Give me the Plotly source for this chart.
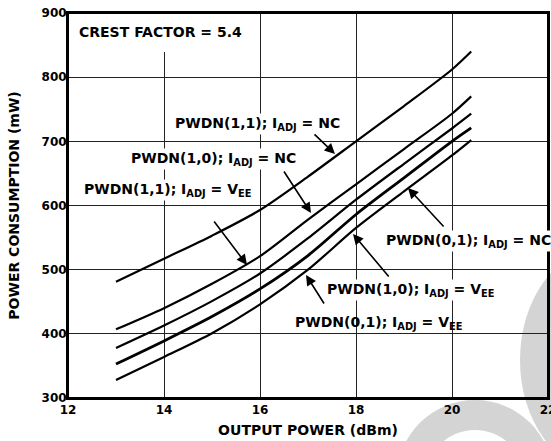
import plotly.graph_objects as go

# ---- data ----
output_power = [13, 14, 15, 16, 17, 18, 19, 20, 20.4]
pwdn11_nc = [481, 517, 553, 593, 645, 700, 755, 812, 840]
pwdn10_nc = [407, 440, 478, 521, 578, 633, 688, 743, 770]
pwdn11_vee = [378, 413, 451, 494, 549, 609, 665, 720, 743]
pwdn10_vee = [353, 389, 427, 470, 522, 586, 643, 700, 721]
pwdn01_vee = [328, 364, 401, 446, 500, 565, 622, 678, 702]

x_ticks = [12, 14, 16, 18, 20, 22]
y_ticks = [300, 400, 500, 600, 700, 800, 900]

FONT = "DejaVu Sans"

fig = go.Figure()
series = [pwdn11_nc, pwdn10_nc, pwdn11_vee, pwdn10_vee, pwdn01_vee]
widths = [2.2, 2.2, 2.2, 2.8, 2.2]
for s, w in zip(series, widths):
    fig.add_trace(go.Scatter(x=output_power, y=s, mode="lines",
                             line=dict(color="black", width=w, shape="spline", smoothing=0.8),
                             showlegend=False, hoverinfo="skip"))

# pixel helpers for placing annotations (plot area: x 68..548, y 13..398)
def px_x(px):
    return 12 + (px - 68) / 48.0

def px_y(py):
    return 900 - (py - 13) * 600.0 / 385.0

def paper_x(px):
    return (px - 68) / 480.0

def paper_y(py):
    return (398 - py) / 385.0

lab_font = dict(family=FONT, size=14, color="black", weight="bold")

labels = [
    ("PWDN(1,1); I<sub>ADJ</sub> = NC", 173, 124, True),
    ("PWDN(1,0); I<sub>ADJ</sub> = NC", 129, 159, True),
    ("PWDN(1,1); I<sub>ADJ</sub> = V<sub>EE</sub>", 82, 190, True),
    ("PWDN(0,1); I<sub>ADJ</sub> = NC", 384, 241, True),
    ("PWDN(1,0); I<sub>ADJ</sub> = V<sub>EE</sub>", 325, 290, True),
    ("PWDN(0,1); I<sub>ADJ</sub> = V<sub>EE</sub>", 293, 323, False),
]
for text, lx, ly, bg in labels:
    fig.add_annotation(x=px_x(lx), y=px_y(ly), text=text, showarrow=False,
                       xanchor="left", yanchor="middle", font=lab_font,
                       bgcolor="white" if bg else "rgba(0,0,0,0)", borderpad=1)

arrows = [
    ((335, 154), (313, 133)),
    ((311, 213), (283, 170)),
    ((247, 265), (213, 220)),
    ((408, 188), (445, 228)),
    ((353, 234), (390, 278)),
    ((306, 275), (325, 305)),
]
for (tx, ty), (sx, sy) in arrows:
    fig.add_annotation(x=px_x(tx), y=px_y(ty), ax=sx - tx, ay=sy - ty, text="",
                       showarrow=True, arrowhead=2, arrowsize=1.3, arrowwidth=1.6,
                       arrowcolor="black")

fig.add_annotation(x=px_x(77), y=px_y(32), text="CREST FACTOR = 5.4", showarrow=False,
                   xanchor="left", yanchor="middle", font=lab_font)

shapes = [
    # white box behind the crest factor text (hides grid)
    dict(type="rect", xref="x", yref="y", x0=px_x(70), x1=px_x(255), y0=px_y(52), y1=900,
         fillcolor="white", line=dict(width=0), layer="between"),
    # light grey watermark pieces
    dict(type="circle", xref="paper", yref="paper",
         x0=paper_x(520), x1=paper_x(680), y0=paper_y(470), y1=paper_y(250),
         fillcolor="#d4d4d4", line=dict(width=0), layer="below"),
    dict(type="circle", xref="paper", yref="paper",
         x0=paper_x(397), x1=paper_x(553), y0=paper_y(556), y1=paper_y(400),
         fillcolor="#d4d4d4", line=dict(width=0), layer="below"),
    dict(type="circle", xref="paper", yref="paper",
         x0=paper_x(425), x1=paper_x(525), y0=paper_y(530), y1=paper_y(430),
         fillcolor="white", line=dict(width=0), layer="below"),
    # plot frame
    dict(type="rect", xref="paper", yref="paper", x0=0, x1=1, y0=0, y1=1,
         line=dict(color="black", width=2), fillcolor="rgba(0,0,0,0)", layer="above"),
]

axis_common = dict(showline=True, linecolor="black", linewidth=2, mirror=True,
                   showgrid=True, gridcolor="#222222", gridwidth=1, ticks="",
                   zeroline=False, ticklabeloverflow="allow",
                   tickfont=dict(family=FONT, size=12, color="black", weight="bold"))

fig.update_layout(
    width=551, height=441,
    margin=dict(l=68, r=3, t=13, b=43, autoexpand=False),
    paper_bgcolor="rgba(0,0,0,0)", plot_bgcolor="rgba(0,0,0,0)",
    shapes=shapes,
    xaxis=dict(range=[12, 22], tickvals=x_ticks, ticktext=[str(v) for v in x_ticks],
               title=dict(text="OUTPUT POWER (dBm)", standoff=9,
                          font=dict(family=FONT, size=14, color="black", weight="bold")),
               **axis_common),
    yaxis=dict(range=[300, 900], tickvals=y_ticks, ticktext=[str(v) for v in y_ticks],
               ticklabelstandoff=-3,
               title=dict(text="POWER CONSUMPTION (mW)", standoff=19,
                          font=dict(family=FONT, size=14, color="black", weight="bold")),
               **axis_common),
)

fig.write_html("out.html", config={"displayModeBar": False},
               post_script="document.documentElement.style.margin='0';document.body.style.margin='0';document.body.style.padding='0';document.body.style.overflow='hidden';")
